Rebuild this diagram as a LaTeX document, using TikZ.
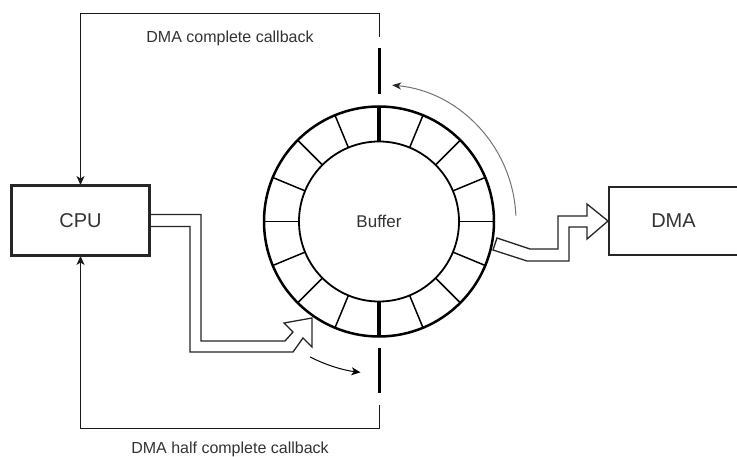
\documentclass[tikz,border=0pt]{standalone}
\usepackage{fontspec}
\setmainfont{Liberation Sans}
\usetikzlibrary{arrows.meta,calc}
\begin{document}
\begin{tikzpicture}[x=1pt,y=-1pt,
  box/.style={draw=black!85, line width=2pt, fill=white, font=\fontsize{20}{24}\selectfont, text=black!80},
  cbline/.style={draw=black!90, line width=1pt},
  cbtip/.style={-{Stealth[length=9pt,width=8pt,inset=2.5pt]}},
  flex/.style={draw=black!85, line width=1.3pt, fill=white, line join=miter},
  lbl/.style={font=\fontsize{16}{19}\selectfont, text=black!80},
  spoke/.style={line width=1.5pt},
  thickspoke/.style={line width=3.5pt},
]
\useasboundingbox (0,0) rectangle (737,457);
\fill[white] (0,0) rectangle (737,457);

% nodes
\node[box, minimum width=137pt, minimum height=69pt] (cpu) at (80.5,220.5) {CPU};
\node[box, minimum width=129pt, minimum height=68pt] (dma) at (673.5,221) {DMA};
\coordinate (bc) at (379,221.5);
\node[circle, draw, line width=2.5pt, minimum size=230pt, inner sep=0pt] (buf) at (bc) {};
\draw[line width=1.8pt] (bc) circle[radius=80];
\foreach \a in {0,22.5,...,337.5}
  \draw[spoke] ($(bc)+(\a:80)$) -- ($(bc)+(\a:115)$);
\draw[thickspoke] ($(bc)+(90:80)$) -- ($(bc)+(90:115)$);
\draw[thickspoke] ($(bc)+(270:80)$) -- ($(bc)+(270:115)$);
\node[font=\fontsize{17}{20}\selectfont, text=black!80] (buftxt) at (bc) {Buffer};

% markers
\coordinate (mt1) at (379.5,48);
\coordinate (mt2) at (379.5,94);
\coordinate (mb1) at (379.5,348);
\coordinate (mb2) at (379.5,393);
\draw[line width=3pt] (mt1) -- (mt2);
\draw[line width=3pt] (mb1) -- (mb2);

% callback lines
\coordinate (ts) at (379.5,37);
\coordinate (t1) at (379.5,14);
\coordinate (bs) at (379.5,405);
\coordinate (b1) at (379.5,428);
\draw[cbline, cbtip] (ts) -- (t1) -- (cpu.north |- t1) -- (cpu.north);
\draw[cbline, cbtip] (bs) -- (b1) -- (cpu.south |- b1) -- (cpu.south);

\node[lbl] (lt) at (230,38) {DMA complete callback};
\node[lbl] (lb) at (230,449) {DMA half complete callback};

% rotation arcs
\draw[black!55, line width=1pt, -{Stealth[length=9pt,width=7pt,inset=2.5pt,color=black!85]}]
  ($(bc)+(-2.5:137)$) arc[start angle=-2.5, end angle=-84.5, radius=137];
\draw[black, line width=1pt, cbtip]
  ($(bc)+(-243:152)$) arc[start angle=-243, end angle=-263, radius=152];

% flex arrows
\draw[flex] ($(cpu.east)+(0,-6)$) -- (201,214.5) -- (201,341) -- (285,341) -- (293,332) -- (284,323)
  -- (312,318) -- (312,347) -- (303,338) -- (293,352) -- (190,352) -- (190,226.5) -- ($(cpu.east)+(0,6)$);
\draw[flex] (497,238) -- (530,249) -- (558,249) -- (558,216) -- (587,216) -- (587,204) -- (dma.west)
  -- (587,239) -- (587,227) -- (569,227) -- (569,261) -- (527,261) -- (493,250) -- cycle;
\draw[draw=black!85, line width=2pt] (cpu.north west) rectangle (cpu.south east);
\end{tikzpicture}
\end{document}
